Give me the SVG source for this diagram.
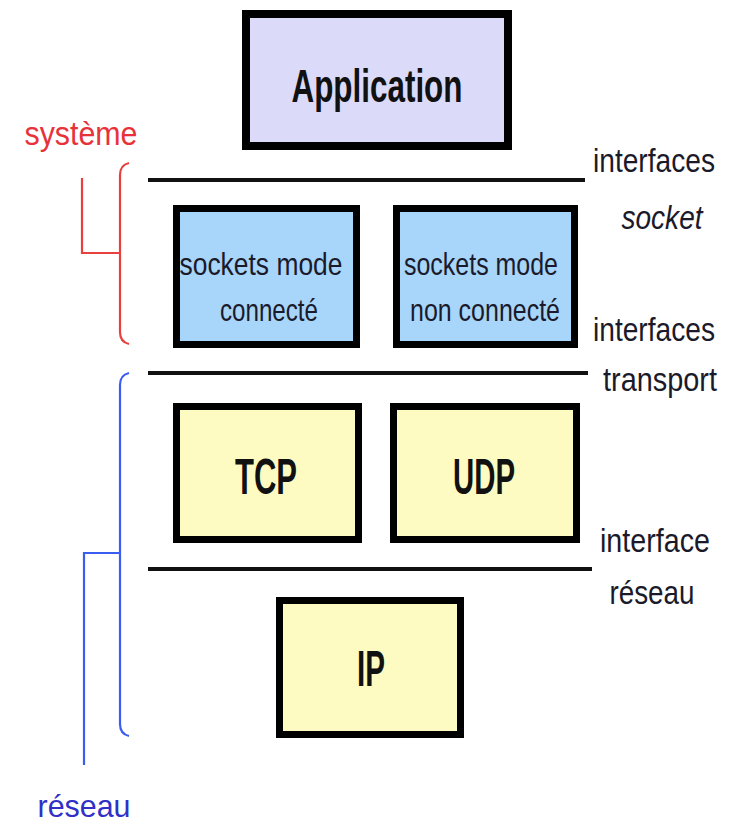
<svg xmlns="http://www.w3.org/2000/svg" width="735" height="826" viewBox="0 0 735 826">
<style>
.box{stroke:#000;stroke-width:7}
.app{fill:#dbdaf9;stroke-width:8}
.sock{fill:#a8d5fa}
.prot{fill:#fdfbc1}
.big{font-family:"Liberation Sans",Arial,sans-serif;font-weight:bold;fill:#111;text-anchor:middle}
.mid{font-family:"Liberation Sans",Arial,sans-serif;font-size:32px;fill:#1a1a2a;text-anchor:middle}
.lab{font-family:"Liberation Sans",Arial,sans-serif;font-size:33px;fill:#1a1a2a;text-anchor:middle}
.sep{stroke:#111;stroke-width:4;fill:none}
.red{stroke:#e8403c;stroke-width:2.2;fill:none}
.blue{stroke:#3a5cf0;stroke-width:2.2;fill:none}
</style>
<rect width="735" height="826" fill="#fff"/>
<g id="application">
<rect class="box app" x="246" y="14" width="262" height="132"/>
<text class="big" x="377" y="102" font-size="46" textLength="171" lengthAdjust="spacingAndGlyphs">Application</text>
</g>
<g id="sock-connecte">
<rect class="box sock" x="176.5" y="208.5" width="180" height="136"/>
<text class="mid" x="261" y="275" textLength="163" lengthAdjust="spacingAndGlyphs">sockets mode</text>
<text class="mid" x="269" y="321" textLength="98" lengthAdjust="spacingAndGlyphs">connecté</text>
</g>
<g id="sock-nonconnecte">
<rect class="box sock" x="396.5" y="208.5" width="178" height="136"/>
<text class="mid" x="481" y="275" textLength="154" lengthAdjust="spacingAndGlyphs">sockets mode</text>
<text class="mid" x="485" y="321" textLength="150" lengthAdjust="spacingAndGlyphs">non connecté</text>
</g>
<g id="tcp">
<rect class="box prot" x="176.5" y="406.5" width="182" height="133"/>
<text class="big" x="266" y="494" font-size="50" textLength="62" lengthAdjust="spacingAndGlyphs">TCP</text>
</g>
<g id="udp">
<rect class="box prot" x="393.5" y="406.5" width="183" height="133"/>
<text class="big" x="484" y="494" font-size="50" textLength="62" lengthAdjust="spacingAndGlyphs">UDP</text>
</g>
<g id="ip">
<rect class="box prot" x="279.5" y="600.5" width="181" height="134"/>
<text class="big" x="371" y="686" font-size="50" textLength="28" lengthAdjust="spacingAndGlyphs">IP</text>
</g>
<g id="connectors">
<line class="sep" x1="148" y1="180" x2="585" y2="180"/>
<line class="sep" x1="148" y1="373" x2="588" y2="373"/>
<line class="sep" x1="148" y1="569" x2="592" y2="569"/>
<path class="red" d="M129,163 Q120,165 120,175 V332 Q120,342 129,344"/>
<path class="red" d="M82,178 V253 H120"/>
<path class="blue" d="M129,373 Q120,375 120,385 V724 Q120,734 129,736"/>
<path class="blue" d="M84,765 V553 H120"/>
</g>
<g id="labels">
<text class="lab" x="654" y="172" textLength="122" lengthAdjust="spacingAndGlyphs">interfaces</text>
<text class="lab" x="662" y="229" font-style="italic" textLength="81" lengthAdjust="spacingAndGlyphs">socket</text>
<text class="lab" x="654" y="341" textLength="122" lengthAdjust="spacingAndGlyphs">interfaces</text>
<text class="lab" x="660" y="391" textLength="114" lengthAdjust="spacingAndGlyphs">transport</text>
<text class="lab" x="655" y="552" textLength="110" lengthAdjust="spacingAndGlyphs">interface</text>
<text class="lab" x="652" y="604" textLength="85" lengthAdjust="spacingAndGlyphs">réseau</text>
<text class="lab" x="81" y="145" style="fill:#e8323a" textLength="113" lengthAdjust="spacingAndGlyphs">système</text>
<text class="lab" x="84" y="817" style="fill:#3030c8;font-size:32px" textLength="93" lengthAdjust="spacingAndGlyphs">réseau</text>
</g>
</svg>
